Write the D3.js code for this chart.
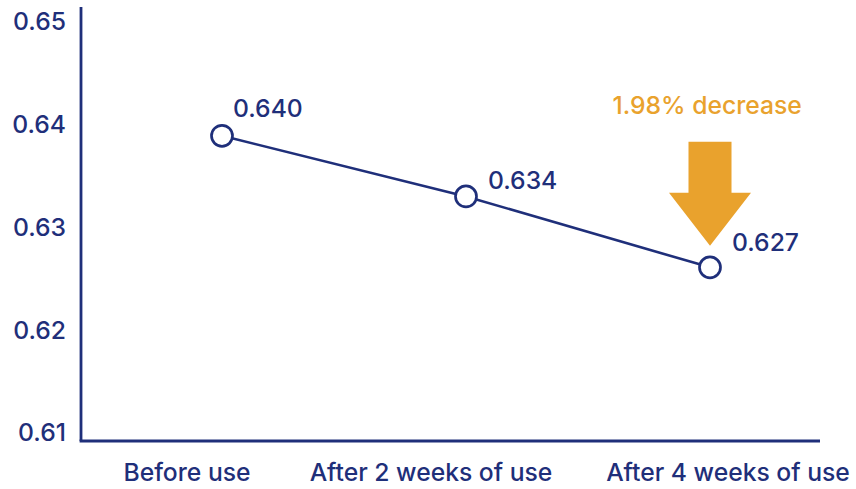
<!DOCTYPE html>
<html>
<head>
<meta charset="utf-8">
<script src="https://cdn.jsdelivr.net/npm/d3@7"></script>
<style>
  html, body { margin: 0; padding: 0; background: #ffffff; }
  svg { display: block; }
  text { font-family: Inter, "Noto Sans", sans-serif; font-weight: 500; }
</style>
</head>
<body>
<svg id="chart" width="856" height="489"></svg>
<script>
const categories = ["Before use", "After 2 weeks of use", "After 4 weeks of use"];
const values = [0.6397, 0.6338, 0.6269];
const valueLabels = ["0.640", "0.634", "0.627"];
const yTicks = [0.61, 0.62, 0.63, 0.64, 0.65];
const annotationText = "1.98% decrease";

const navy = "#1f2f7a";
const orange = "#e9a22d";
const FS = "24.7px";

const plot = { left: 81, right: 820, top: 7, bottom: 441 };

const svg = d3.select("#chart");

const x = d3.scalePoint().domain(categories).range([222, 710]);
const y = d3.scaleLinear().domain([0.61, 0.65]).range([plot.bottom, 30]);

// axes lines
svg.append("line")
  .attr("x1", plot.left).attr("x2", plot.left)
  .attr("y1", plot.top).attr("y2", plot.bottom)
  .attr("stroke", navy).attr("stroke-width", 2.8);
svg.append("line")
  .attr("x1", plot.left - 1.4).attr("x2", plot.right)
  .attr("y1", plot.bottom).attr("y2", plot.bottom)
  .attr("stroke", navy).attr("stroke-width", 2.8);

// y tick labels (drawn slightly above their tick positions, as in the reference)
const yAxis = d3.axisLeft(y).tickValues(yTicks).tickFormat(d3.format(".2f")).tickSize(0).tickPadding(0);
const gy = svg.append("g").attr("transform", `translate(66,-8)`).call(yAxis);
gy.select(".domain").remove();
gy.selectAll("text")
  .attr("fill", navy)
  .style("font-size", FS)
  .style("font-weight", 500)
  .style("font-family", "Inter, 'Noto Sans', sans-serif");

// x category labels
const xLabelOffsets = [-35, -35, 18];
svg.append("g").selectAll("text")
  .data(categories)
  .join("text")
  .attr("x", (d, i) => x(d) + xLabelOffsets[i])
  .attr("y", 472)
  .attr("text-anchor", "middle")
  .attr("dominant-baseline", "central")
  .attr("fill", navy)
  .style("font-size", FS)
  .text(d => d);

// line
const pts = categories.map((c, i) => ({ c, v: values[i], label: valueLabels[i] }));
svg.append("path")
  .datum(pts)
  .attr("fill", "none")
  .attr("stroke", navy)
  .attr("stroke-width", 2.6)
  .attr("d", d3.line().x(d => x(d.c)).y(d => y(d.v)));

// markers
svg.append("g").selectAll("circle")
  .data(pts)
  .join("circle")
  .attr("cx", d => x(d.c))
  .attr("cy", d => y(d.v))
  .attr("r", 10.5)
  .attr("fill", "#ffffff")
  .attr("stroke", navy)
  .attr("stroke-width", 2.7);

// value labels
const labelDx = [11, 22, 22];
const labelDy = [-27.5, -16.5, -25.5];
svg.append("g").selectAll("text")
  .data(pts)
  .join("text")
  .attr("x", (d, i) => x(d.c) + labelDx[i])
  .attr("y", (d, i) => y(d.v) + labelDy[i])
  .attr("dominant-baseline", "central")
  .attr("fill", navy)
  .style("font-size", FS)
  .text(d => d.label);

// annotation arrow over last point
const last = pts[pts.length - 1];
const ax = x(last.c), ay = y(last.v);
const tipY = ay - 21.7;
const arrow = d3.path();
arrow.moveTo(ax - 21.5, tipY - 104);
arrow.lineTo(ax + 21.5, tipY - 104);
arrow.lineTo(ax + 21.5, tipY - 53);
arrow.lineTo(ax + 41, tipY - 53);
arrow.lineTo(ax, tipY);
arrow.lineTo(ax - 41, tipY - 53);
arrow.lineTo(ax - 21.5, tipY - 53);
arrow.closePath();
svg.append("path").attr("d", arrow.toString()).attr("fill", orange);

svg.append("text")
  .attr("x", ax - 97.5)
  .attr("y", tipY - 141)
  .attr("dominant-baseline", "central")
  .attr("fill", orange)
  .style("font-size", FS)
  .text(annotationText);
</script>
</body>
</html>
